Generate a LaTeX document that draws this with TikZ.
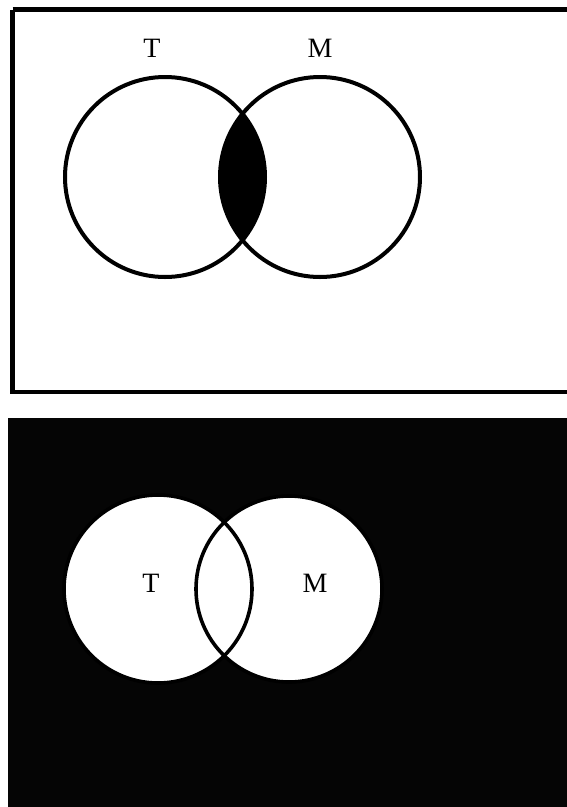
\documentclass[tikz,border=0pt]{standalone}
\usepackage{fontspec}
\setmainfont{Liberation Serif}
\begin{document}
\begin{tikzpicture}[x=1pt,y=-1pt,
  ring/.style={draw=black,line width=4pt},
  lbl/.style={font=\fontsize{28}{28}\selectfont,inner sep=0pt}]
\useasboundingbox (0,0) rectangle (567,807);
% top panel
\draw[line width=4.5pt] (12.5,9.5) -- (580,9.5) (12.5,9.5) -- (12.5,392) -- (580,392);
\begin{scope}
  \clip (165,177) circle (100);
  \fill[black] (320,177) circle (100);
\end{scope}
\draw[ring] (165,177) circle (100);
\draw[ring] (320,177) circle (100);
\node[lbl] (t1) at (152,48) {T};
\node[lbl] (m1) at (320,48) {M};
% bottom panel
\fill[black!98] (8,418) rectangle (567,807);
\fill[white] (158,589) circle (94);
\fill[white] (289,589) circle (93);
\draw[ring,line width=3.6pt] (158,589) circle (94);
\draw[ring,line width=3.6pt] (289,589) circle (93);
\node[lbl] (t2) at (151,583) {T};
\node[lbl] (m2) at (315,583) {M};
\end{tikzpicture}
\end{document}
